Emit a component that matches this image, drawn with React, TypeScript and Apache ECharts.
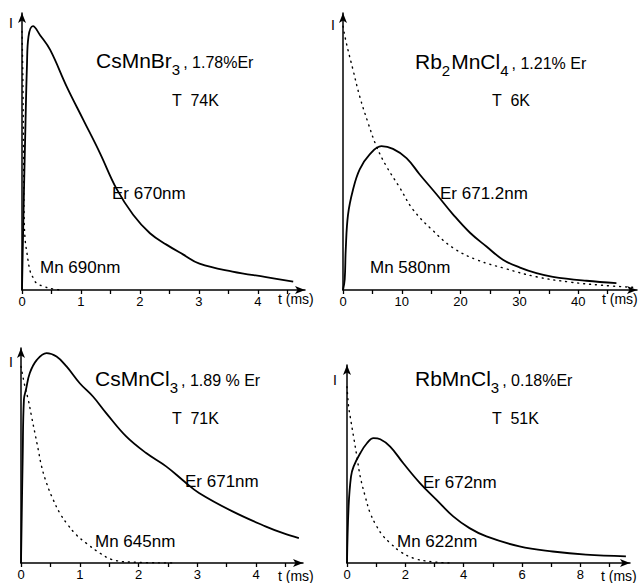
import React, { useEffect, useRef } from "react";
import * as echarts from "echarts";

// ---- CsMnBr3, 1.78% Er, 74 K (time in ms, intensity in arbitrary units) ----
const csBrErT = [0, 0.028, 0.056, 0.084, 0.11, 0.186, 0.31, 0.478, 0.76, 1.04, 1.32, 1.6, 1.885, 2.17, 2.45, 2.73, 3.01, 3.57, 4.14, 4.6];
const csBrErI = [0, 0.32, 0.6, 0.85, 0.96, 1.0, 0.965, 0.91, 0.77, 0.645, 0.52, 0.385, 0.285, 0.215, 0.172, 0.135, 0.1, 0.07, 0.049, 0.032];
const csBrMnT = [0, 0.015, 0.027, 0.035, 0.05, 0.084, 0.14, 0.196, 0.25, 0.365, 0.48, 0.65];
const csBrMnI = [0.98, 0.8, 0.5, 0.3, 0.2, 0.14, 0.07, 0.044, 0.025, 0.014, 0.006, 0];

// ---- Rb2MnCl4, 1.21% Er, 6 K ----
const rbClErT = [0, 0.29, 0.46, 0.85, 1.7, 2.84, 4.54, 6.53, 8.5, 10.8, 13.05, 15.9, 18.7, 21.6, 24.4, 27.2, 30.1, 32.9, 35.7, 41.4, 46.5];
const rbClErI = [0, 0.04, 0.15, 0.285, 0.38, 0.457, 0.514, 0.545, 0.535, 0.5, 0.438, 0.363, 0.287, 0.217, 0.165, 0.115, 0.085, 0.064, 0.05, 0.035, 0.026];
const rbClMnT = [0, 0.57, 1.7, 2.84, 4.26, 5.68, 7.38, 9.65, 11.9, 15.3, 18.7, 22.7, 27.8, 32.9, 38.6, 44, 49.5];
const rbClMnI = [1.0, 0.936, 0.835, 0.734, 0.634, 0.545, 0.469, 0.388, 0.305, 0.225, 0.16, 0.115, 0.08, 0.05, 0.03, 0.018, 0.01];

// ---- CsMnCl3, 1.89% Er, 71 K ----
const csClErT = [0, 0.029, 0.05, 0.085, 0.15, 0.27, 0.435, 0.605, 0.775, 1.0, 1.225, 1.45, 1.79, 2.13, 2.47, 2.78, 3.03, 3.6, 4.16, 4.45, 4.73];
const csClErI = [0, 0.52, 0.8, 0.847, 0.928, 0.992, 1.025, 1.008, 0.96, 0.878, 0.813, 0.732, 0.618, 0.537, 0.472, 0.398, 0.342, 0.252, 0.179, 0.147, 0.122];
const csClMnT = [0, 0.068, 0.124, 0.18, 0.237, 0.294, 0.35, 0.435, 0.548, 0.66, 0.775, 0.94, 1.11, 1.34, 1.56, 1.9, 2.6];
const csClMnI = [0.96, 0.86, 0.797, 0.715, 0.634, 0.553, 0.472, 0.39, 0.309, 0.244, 0.195, 0.138, 0.097, 0.049, 0.016, 0.004, 0];

// ---- RbMnCl3, 0.18% Er, 51 K ----
const rbMnErT = [0, 0.055, 0.137, 0.225, 0.454, 0.683, 0.908, 1.14, 1.48, 1.93, 2.5, 3.07, 3.64, 4.2, 4.78, 5.91, 7.05, 8.19, 9.56];
const rbMnErI = [0, 0.3, 0.458, 0.511, 0.582, 0.635, 0.662, 0.656, 0.617, 0.529, 0.424, 0.335, 0.247, 0.185, 0.141, 0.088, 0.061, 0.044, 0.035];
const rbMnMnT = [0, 0.055, 0.11, 0.225, 0.34, 0.454, 0.625, 0.795, 1.02, 1.25, 1.48, 1.82, 2.27, 2.84, 3.5];
const rbMnMnI = [0.935, 0.83, 0.776, 0.67, 0.564, 0.458, 0.353, 0.265, 0.194, 0.141, 0.106, 0.061, 0.026, 0.008, 0];

// Time axes: extent, tick positions and labelled values
const axisMax = [4.8, 50, 4.8, 9.7];
const tickValues = [
  [0, 0.5, 1, 1.5, 2, 2.5, 3, 3.5, 4, 4.5],
  [0, 5, 10, 15, 20, 25, 30, 35, 40, 45],
  [0, 0.5, 1, 1.5, 2, 2.5, 3, 3.5, 4, 4.5],
  [0, 1, 2, 3, 4, 5, 6, 7, 8, 9],
];
const labelValues = [
  [0, 1, 2, 3, 4],
  [0, 10, 20, 30, 40],
  [0, 1, 2, 3, 4],
  [0, 2, 4, 6, 8],
];

// Sample headings: [text, isSubscript] runs
const headings: [string, boolean][][] = [
  [["CsMnBr", false], ["3", true]],
  [["Rb", false], ["2", true], ["MnCl", false], ["4", true]],
  [["CsMnCl", false], ["3", true]],
  [["RbMnCl", false], ["3", true]],
];
const dopings = [", 1.78%Er", ", 1.21% Er", ", 1.89 % Er", ", 0.18%Er"];
const temps = ["T  74K", "T  6K", "T  71K", "T  51K"];
const erLabels = ["Er 670nm", "Er 671.2nm", "Er 671nm", "Er 672nm"];
const mnLabels = ["Mn 690nm", "Mn 580nm", "Mn 645nm", "Mn 622nm"];

const FONT = '"Liberation Sans", Arial, Helvetica, sans-serif';

const zip = (t: number[], v: number[]) => t.map((x, i) => [x, v[i]]);

// Panel frames in pixels
const grids = [
  { left: 22, top: 13, width: 283, height: 277 },
  { left: 343, top: 13, width: 294, height: 277 },
  { left: 21, top: 348, width: 282, height: 215 },
  { left: 347, top: 365, width: 283, height: 198 },
];

// Text anchors inside each panel (left x, middle y)
const headingPos = [[96, 60], [415, 61], [95, 378], [415, 378]];
const tempPos = [[172, 100], [492, 100], [172, 418], [492, 418]];
const erPos = [[112, 193], [440, 193], [185, 481], [423, 482]];
const mnPos = [[40, 267], [370, 267], [95, 541], [397, 541]];
const iPos = [[9, 23], [331, 25], [9, 362], [333, 380]];
const unitPos = [[278, 299], [602, 299], [278, 576], [601, 576]];

const txt = (x: number, y: number, text: string, size: number) => ({
  type: "text",
  x,
  y,
  silent: true,
  style: {
    text,
    fill: "#000",
    font: `${size}px ${FONT}`,
    align: "left",
    textAlign: "left",
    verticalAlign: "middle",
    textVerticalAlign: "middle",
  },
});

export default function App() {
  const ref = useRef<HTMLDivElement>(null);

  useEffect(() => {
    if (!ref.current) return;
    const chart = echarts.init(ref.current, undefined, { renderer: "svg" });

    const ctx = document.createElement("canvas").getContext("2d")!;
    const measure = (s: string, size: number) => {
      ctx.font = `${size}px ${FONT}`;
      return ctx.measureText(s).width;
    };

    const axisLineStyle = { color: "#000", width: 1.5 };

    const xAxis = grids.map((_, i) => ({
      type: "value",
      gridIndex: i,
      min: 0,
      max: axisMax[i],
      axisLine: {
        show: true,
        onZero: false,
        symbol: ["none", "arrow"],
        symbolSize: [6, 10],
        lineStyle: axisLineStyle,
      },
      axisTick: {
        show: true,
        inside: false,
        length: 4,
        customValues: tickValues[i],
        lineStyle: { color: "#000", width: 1.3 },
      },
      axisLabel: {
        show: true,
        customValues: labelValues[i],
        color: "#000",
        fontSize: 13,
        fontFamily: FONT,
        margin: 5,
      },
      splitLine: { show: false },
    }));

    const yAxis = grids.map((_, i) => ({
      type: "value",
      gridIndex: i,
      min: 0,
      max: 1.05,
      axisLine: {
        show: true,
        onZero: false,
        symbol: ["none", "arrow"],
        symbolSize: [6, 10],
        lineStyle: axisLineStyle,
      },
      axisTick: { show: false },
      axisLabel: { show: false },
      splitLine: { show: false },
    }));

    const erData = [
      zip(csBrErT, csBrErI),
      zip(rbClErT, rbClErI),
      zip(csClErT, csClErI),
      zip(rbMnErT, rbMnErI),
    ];
    const mnData = [
      zip(csBrMnT, csBrMnI),
      zip(rbClMnT, rbClMnI),
      zip(csClMnT, csClMnI),
      zip(rbMnMnT, rbMnMnI),
    ];

    const series: any[] = [];
    for (let i = 0; i < 4; i++) {
      series.push({
        type: "line",
        name: "Er",
        xAxisIndex: i,
        yAxisIndex: i,
        data: erData[i],
        showSymbol: false,
        smooth: 0.4,
        lineStyle: { color: "#000", width: 1.8 },
        z: 3,
      });
      series.push({
        type: "line",
        name: "Mn",
        xAxisIndex: i,
        yAxisIndex: i,
        data: mnData[i],
        showSymbol: false,
        smooth: 0.4,
        lineStyle: { color: "#000", width: 1.4, type: [1, 5], cap: "round" },
        z: 2,
      });
    }

    const graphic: any[] = [];
    const MAIN = 21;
    const SUB = 15;
    const SMALL = 16;
    for (let i = 0; i < 4; i++) {
      let [x, y] = headingPos[i];
      for (const [s, sub] of headings[i]) {
        const size = sub ? SUB : MAIN;
        graphic.push(txt(x, sub ? y + 9 : y, s, size));
        x += measure(s, size) + (sub ? 1 : 0);
      }
      graphic.push(txt(x + 2, y + 2, dopings[i], SMALL));
      graphic.push(txt(tempPos[i][0], tempPos[i][1], temps[i], 16));
      graphic.push(txt(erPos[i][0], erPos[i][1], erLabels[i], 17));
      graphic.push(txt(mnPos[i][0], mnPos[i][1], mnLabels[i], 17));
      graphic.push(txt(iPos[i][0], iPos[i][1], "I", 14));
      graphic.push(txt(unitPos[i][0], unitPos[i][1], "t (ms)", 14));
    }

    chart.setOption({
      animation: false,
      backgroundColor: "#fff",
      grid: grids.map((g) => ({ ...g, containLabel: false })),
      xAxis,
      yAxis,
      series,
      graphic,
    });

    return () => chart.dispose();
  }, []);

  return (
    <div
      ref={ref}
      style={{ position: "fixed", left: 0, top: 0, width: 643, height: 583, background: "#fff" }}
    />
  );
}
